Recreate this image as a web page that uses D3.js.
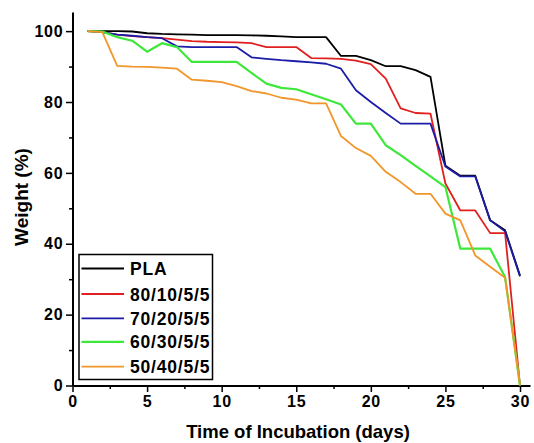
<!DOCTYPE html>
<html>
<head>
<meta charset="utf-8">
<script src="https://cdn.jsdelivr.net/npm/d3@7"></script>
<style>
html,body{margin:0;padding:0;background:#fff;}
svg{display:block;font-family:Arial,"Liberation Sans",sans-serif;}
</style>
</head>
<body>
<svg id="chart" width="534" height="443"></svg>
<script>
const days = d3.range(1, 31);
const seriesNames = ["PLA", "80/10/5/5", "70/20/5/5", "60/30/5/5", "50/40/5/5"];
const seriesColors = ["#000000", "#e0201e", "#1c1ca8", "#3ee83a", "#f0962a"];
const pla = [100,100,100,99.9,99.4,99.2,99.1,99,98.9,98.9,98.9,98.8,98.7,98.5,98.3,98.3,98.3,93,93,91.8,90.1,90.1,89,87.1,62,59.2,59.2,46.6,43.8,31];
const s80 = [100,99.7,99,98.6,98.3,98,97.6,97.2,97,96.9,96.8,96.6,95.5,95.5,95.5,92.4,92.3,92.2,91.7,90.7,86.6,78.2,76.9,76.7,57,49.4,49.4,43,43,0];
const s70 = [100,99.7,99,98.7,98.3,98,95.7,95.5,95.5,95.5,95.5,92.6,92.2,91.8,91.5,91.2,90.8,89.4,83.3,80,76.9,73.9,73.9,73.9,61.8,59,59,46.6,43.5,30.8];
const s60 = [100,99.9,98.3,97.3,94.2,96.6,95.5,91.3,91.3,91.3,91.3,88.2,85.2,84,83.6,82.2,80.8,79.3,73.9,73.9,67.8,65,62,59,56,38.6,38.6,38.6,30.6,0];
const s50 = [100,99.7,90.2,90,89.9,89.7,89.4,86.3,86,85.6,84.5,83.1,82.4,81.2,80.7,79.6,79.6,70.4,67,64.8,60.3,57.4,54.1,54.1,48.5,46.6,36.7,33.5,30.4,0];
const allSeries = [pla, s80, s70, s60, s50];
const xTicks = [0, 5, 10, 15, 20, 25, 30];
const xMinor = [2.5, 7.5, 12.5, 17.5, 22.5, 27.5];
const yTicks = [0, 20, 40, 60, 80, 100];
const yMinor = [10, 30, 50, 70, 90];

const svg = d3.select("#chart");
const x = d3.scaleLinear().domain([0, 30.67]).range([72.5, 530]);
const y = d3.scaleLinear().domain([0, 105.4]).range([385.5, 12]);
const FONT = "Arial, 'Liberation Sans', sans-serif";

// minor ticks
const gxm = svg.append("g").attr("transform", "translate(0,385.5)")
  .call(d3.axisBottom(x).tickValues(xMinor).tickSize(3.5).tickFormat(""));
gxm.select(".domain").remove();
gxm.selectAll("line").attr("stroke-width", 1.5);
const gym = svg.append("g").attr("transform", "translate(72.5,0)")
  .call(d3.axisLeft(y).tickValues(yMinor).tickSize(3.5).tickFormat(""));
gym.select(".domain").remove();
gym.selectAll("line").attr("stroke-width", 1.5);

// major axes
const gx = svg.append("g").attr("transform", "translate(0,385.5)")
  .call(d3.axisBottom(x).tickValues(xTicks).tickSize(6.5).tickSizeOuter(0).tickPadding(4));
gx.select(".domain").attr("stroke-width", 2);
gx.selectAll("line").attr("stroke-width", 1.5);
gx.selectAll("text").attr("font-size", 16).attr("font-weight", "bold").attr("fill", "#000")
  .attr("font-family", FONT).style("letter-spacing", "0.8px");

const gy = svg.append("g").attr("transform", "translate(72.5,0)")
  .call(d3.axisLeft(y).tickValues(yTicks).tickSize(6.5).tickSizeOuter(0).tickPadding(2.5));
gy.select(".domain").attr("stroke-width", 2);
gy.selectAll("line").attr("stroke-width", 1.5);
gy.selectAll("text").attr("font-size", 16).attr("font-weight", "bold").attr("fill", "#000")
  .attr("font-family", FONT).style("letter-spacing", "0.8px");

// series
const line = d3.line().x((d, i) => x(days[i])).y(d => y(d));
allSeries.forEach((s, k) => {
  svg.append("path").datum(s)
    .attr("fill", "none")
    .attr("stroke", seriesColors[k])
    .attr("stroke-width", k === 3 ? 2.2 : 1.8)
    .attr("stroke-linejoin", "round")
    .attr("d", line);
});

// axis titles
svg.append("text").attr("x", 298).attr("y", 437.5).attr("text-anchor", "middle")
  .attr("font-size", 18.5).attr("font-weight", "bold").text("Time of Incubation (days)");
svg.append("text").attr("transform", "translate(28,197) rotate(-90)").attr("text-anchor", "middle")
  .attr("font-size", 19).attr("font-weight", "bold").text("Weight (%)");

// legend
const lg = svg.append("g");
lg.append("rect").attr("x", 79).attr("y", 254.5).attr("width", 133.5).attr("height", 125)
  .attr("fill", "#fff").attr("stroke", "#000").attr("stroke-width", 1.5);
const rowY = [268.5, 294, 318.3, 341.8, 366.7];
seriesNames.forEach((n, k) => {
  lg.append("line").attr("x1", 81.5).attr("x2", 124).attr("y1", rowY[k]).attr("y2", rowY[k])
    .attr("stroke", seriesColors[k]).attr("stroke-width", k === 3 ? 2.2 : 1.8);
  lg.append("text").attr("x", 130).attr("y", rowY[k] + 6.5).attr("font-size", 17.5)
    .attr("font-weight", "bold").style("letter-spacing", "0.8px").text(n);
});
</script>
</body>
</html>
